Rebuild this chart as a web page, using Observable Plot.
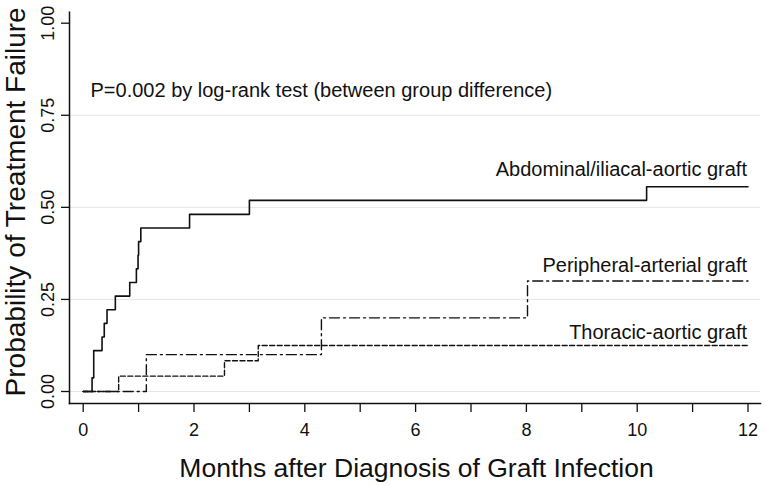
<!DOCTYPE html>
<html><head><meta charset="utf-8">
<script src="https://cdn.jsdelivr.net/npm/d3@7"></script>
<script src="https://cdn.jsdelivr.net/npm/@observablehq/plot@0.6"></script>
<style>body{margin:0;background:#fff} svg{display:block}</style>
</head><body><div id="chart"></div>
<script>
const groupNames = ["Abdominal/iliacal-aortic graft", "Peripheral-arterial graft", "Thoracic-aortic graft"];
const abdominalMonths = [0, 0.16, 0.19, 0.34, 0.38, 0.43, 0.58, 0.84, 0.96, 0.99, 1.00, 1.04, 1.92, 3.00, 10.17, 12];
const abdominalProb   = [0, 0.037, 0.111, 0.148, 0.185, 0.222, 0.259, 0.296, 0.333, 0.370, 0.407, 0.444, 0.481, 0.519, 0.556, 0.556];
const peripheralMonths = [0, 1.14, 4.30, 8.02, 12];
const peripheralProb   = [0, 0.10, 0.20, 0.30, 0.30];
const thoracicMonths = [0, 0.64, 2.55, 3.16, 12];
const thoracicProb   = [0, 0.0417, 0.0833, 0.125, 0.125];
const xTicks = [0, 1, 2, 3, 4, 5, 6, 7, 8, 9, 10, 11, 12];
const yTicks = [0, 0.25, 0.5, 0.75, 1];
const gridValues = [0, 0.25, 0.5, 0.75];
const pText = "P=0.002 by log-rank test (between group difference)";
const xTitle = "Months after Diagnosis of Graft Infection";
const yTitle = "Probability of Treatment Failure";

const toRows = (months, probs, group) => months.map((m, i) => ({month: m, prob: probs[i], group}));
const abd = toRows(abdominalMonths, abdominalProb, groupNames[0]);
const per = toRows(peripheralMonths, peripheralProb, groupNames[1]);
const tho = toRows(thoracicMonths, thoracicProb, groupNames[2]);
const last = rows => [rows[rows.length - 1]];

const ink = "#111";
const font = "Liberation Sans, Arial, Helvetica, sans-serif";

const chart = Plot.plot({
  width: 766, height: 486,
  marginLeft: 69, marginRight: 6, marginTop: 11.7, marginBottom: 83,
  style: {fontFamily: font, background: "#fff", color: ink},
  x: {domain: [0, 12], insetLeft: 13.7, insetRight: 12.5},
  y: {domain: [0, 1], insetTop: 11, insetBottom: 12},
  marks: [
    Plot.ruleY(gridValues, {stroke: "#e6e6e6", strokeWidth: 1}),
    Plot.frame({anchor: "left", stroke: ink, strokeWidth: 1.5}),
    Plot.frame({anchor: "bottom", stroke: ink, strokeWidth: 1.5}),
    Plot.axisX({ticks: xTicks, tickSize: 9, tickPadding: 11, fontSize: 18, label: null,
      tickFormat: d => d % 2 === 0 ? String(d) : "", stroke: ink, strokeWidth: 1.3}),
    Plot.axisY({ticks: yTicks, tickSize: 8, label: null, tickFormat: () => "", stroke: ink, strokeWidth: 1.3}),
    Plot.text(yTicks, {y: d => d, text: d => d3.format(".2f")(d), frameAnchor: "left", dx: -21,
      rotate: -90, textAnchor: "middle", lineAnchor: "middle", fontSize: 18, fill: ink}),
    Plot.line(tho, {x: "month", y: "prob", curve: "step-after", stroke: ink, strokeWidth: 1.4, strokeDasharray: "5,2.5"}),
    Plot.line(per, {x: "month", y: "prob", curve: "step-after", stroke: ink, strokeWidth: 1.4, strokeDasharray: "10,4,2,4"}),
    Plot.line(abd, {x: "month", y: "prob", curve: "step-after", stroke: ink, strokeWidth: 1.6}),
    Plot.text(last(abd), {x: "month", y: "prob", text: "group", textAnchor: "end", lineAnchor: "middle", dx: -1, dy: -17, fontSize: 20, fill: ink}),
    Plot.text(last(per), {x: "month", y: "prob", text: "group", textAnchor: "end", lineAnchor: "middle", dx: -1, dy: -15.2, fontSize: 20, fill: ink}),
    Plot.text(last(tho), {x: "month", y: "prob", text: "group", textAnchor: "end", lineAnchor: "middle", dx: -1, dy: -13.1, fontSize: 20, fill: ink}),
    Plot.text([pText], {text: d => d, frameAnchor: "top-left", textAnchor: "start", lineAnchor: "middle", dx: 21, dy: 78.6, fontSize: 20, fill: ink}),
    Plot.text([xTitle], {text: d => d, frameAnchor: "bottom", textAnchor: "middle", lineAnchor: "middle", dx: 1.5, dy: 64.7, fontSize: 26.5, fill: ink}),
    Plot.text([yTitle], {text: d => d, frameAnchor: "left", textAnchor: "middle", lineAnchor: "middle", rotate: -90, dx: -53, dy: -6, fontSize: 28, fill: ink})
  ]
});
document.getElementById("chart").appendChild(chart);
</script>
</body></html>
